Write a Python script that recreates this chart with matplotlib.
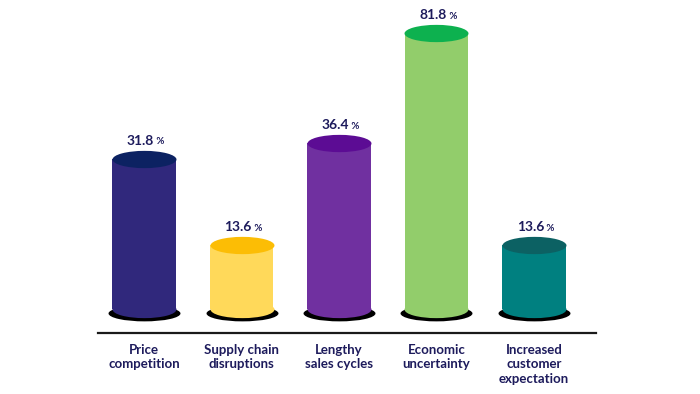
import numpy as np
import matplotlib
matplotlib.use("Agg")
import matplotlib.pyplot as plt
from matplotlib.path import Path
from matplotlib.transforms import Affine2D

# ---------------- data ----------------
categories = ["Price\ncompetition", "Supply chain\ndisruptions", "Lengthy\nsales cycles",
              "Economic\nuncertainty", "Increased\ncustomer\nexpectation"]
values = [31.8, 13.6, 36.4, 81.8, 13.6]
body_colors = ["#30287c", "#ffd95a", "#7030a0", "#92cd6b", "#008080"]
top_colors = ["#0c2262", "#fcbd05", "#5c0c94", "#0db14f", "#0c6163"]

TEXT_COLOR = "#1d1b5c"
BASE = 6.0          # where the cylinders start (display scale)
POW = 0.3           # display scale exponent

plt.rcParams['font.family'] = ['Lato', 'DejaVu Sans']

fig = plt.figure(figsize=(7.0, 3.94), dpi=100)
ax = fig.add_axes([98/700, (394-333)/394, 498/700, 333/394])

fwd = lambda v: np.power(np.clip(v, 1e-9, None), POW)
inv = lambda t: np.power(np.clip(t, 1e-9, None), 1/POW)
ax.set_yscale('function', functions=(fwd, inv))
ax.set_ylim(4.2, 101)
ax.set_xlim(-0.472, 4.636)

x = np.arange(len(values))
width = 0.656
bar_px = width * 97.5
ms_body = bar_px * 72 / 100

# ellipse marker paths
circ = Path.unit_circle()
top_path = circ.transformed(Affine2D().scale(1, 0.27))
shadow_path = circ.transformed(Affine2D().scale(1, 0.22).translate(0, -0.11))

for xi, v, bc, tc in zip(x, values, body_colors, top_colors):
    # shadow
    ax.plot([xi], [BASE], marker=shadow_path, markersize=ms_body * 72 / 64,
            color="black", markeredgewidth=0, linestyle='none', zorder=1)
    # bottom rounded part
    ax.plot([xi], [BASE], marker=top_path, markersize=ms_body,
            color=bc, markeredgewidth=0, linestyle='none', zorder=2)
    # body
    ax.bar(xi, v - BASE, bottom=BASE, width=width, color=bc, zorder=2, linewidth=0)
    # top
    ax.plot([xi], [v], marker=top_path, markersize=ms_body,
            color=tc, markeredgewidth=0, linestyle='none', zorder=3)
    # value label
    t = ax.annotate(f"{v:.1f}", (xi, v), xytext=(-2.5, 13), textcoords='offset points',
                    ha='center', va='center', fontsize=10, fontweight='bold',
                    color=TEXT_COLOR, zorder=4)
    ax.annotate(" %", xy=(1, 0.02), xycoords=t, ha='left', va='bottom',
                fontsize=7, fontweight='bold', color=TEXT_COLOR)

ax.set_xticks(x)
ax.set_xticklabels(categories, fontsize=9.5, fontweight='bold', color=TEXT_COLOR,
                   linespacing=1.22)
ax.tick_params(axis='x', length=0, pad=8)
ax.set_yticks([])
ax.yaxis.set_minor_locator(matplotlib.ticker.NullLocator())
for s in ['top', 'right', 'left']:
    ax.spines[s].set_visible(False)
ax.spines['bottom'].set_color('#1a1a1a')
ax.spines['bottom'].set_linewidth(1.6)
ax.patch.set_alpha(0)

fig.savefig("out.png", dpi=100)
